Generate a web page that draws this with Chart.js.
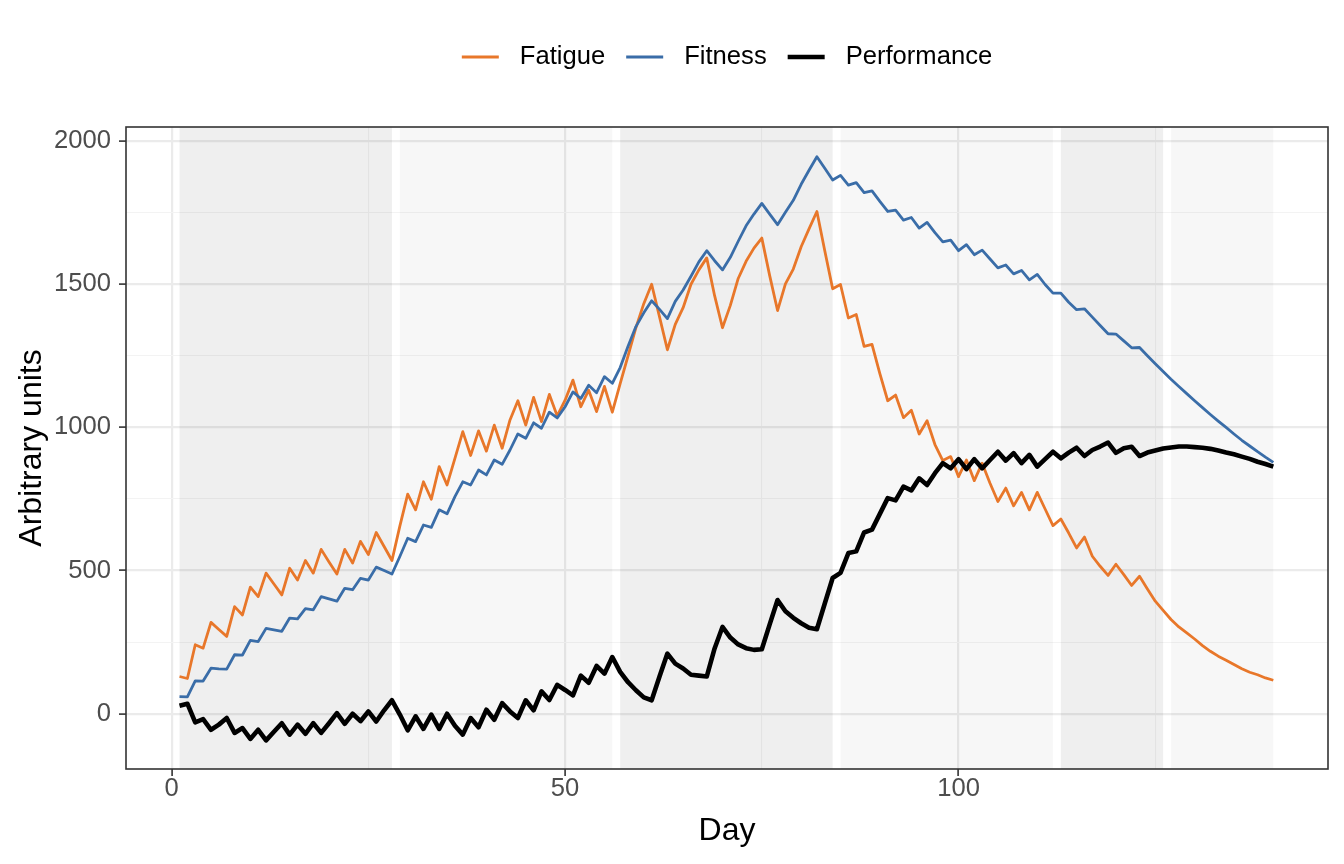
<!DOCTYPE html>
<html lang="en">
<head>
<meta charset="UTF-8">
<title>Fitness, fatigue and performance</title>
<style>
  html, body { margin: 0; padding: 0; background: #fff; }
  #wrap { width: 1344px; height: 864px; }
</style>
</head>
<body>
<div id="wrap"><canvas id="chart" width="1344" height="864"></canvas></div>
<script src="https://cdn.jsdelivr.net/npm/chart.js"></script>
<script>
  // values, one per day (days 1..140)
  const days = [
    1,2,3,4,5,6,7,8,9,10,11,12,13,14,15,16,17,18,19,20,
    21,22,23,24,25,26,27,28,29,30,31,32,33,34,35,36,37,38,39,40,
    41,42,43,44,45,46,47,48,49,50,51,52,53,54,55,56,57,58,59,60,
    61,62,63,64,65,66,67,68,69,70,71,72,73,74,75,76,77,78,79,80,
    81,82,83,84,85,86,87,88,89,90,91,92,93,94,95,96,97,98,99,100,
    101,102,103,104,105,106,107,108,109,110,111,112,113,114,115,116,117,118,119,120,
    121,122,123,124,125,126,127,128,129,130,131,132,133,134,135,136,137,138,139,140
  ];
  const fatigue = [
    130,123,241,229,319,294,270,374,345,442,
    409,491,453,415,508,467,535,491,574,530,
    488,574,526,602,556,633,584,535,655,767,
    712,810,749,863,799,892,985,902,988,917,
    1008,927,1026,1093,1008,1105,1020,1115,1040,1095,
    1165,1072,1130,1055,1143,1053,1153,1250,1348,1432,
    1500,1386,1271,1360,1418,1500,1550,1592,1460,1348,
    1426,1520,1580,1626,1661,1530,1408,1501,1553,1631,
    1693,1754,1617,1484,1499,1382,1394,1283,1290,1188,
    1093,1113,1034,1060,977,1023,940,884,898,828,
    886,814,875,805,741,788,726,773,712,773,
    715,657,680,631,579,617,550,515,483,522,
    486,448,480,436,393,361,329,303,282,261,
    238,218,201,187,172,157,145,136,125,117
  ];
  const fitness = [
    60,59,115,114,159,157,156,206,205,256,
    252,298,293,288,334,331,367,363,409,401,
    393,438,433,473,467,512,500,488,549,613,
    601,659,651,712,698,758,810,799,851,834,
    886,871,921,977,962,1016,997,1053,1033,1072,
    1124,1101,1147,1121,1177,1154,1209,1283,1352,1400,
    1442,1412,1380,1440,1480,1528,1578,1617,1582,1550,
    1594,1650,1704,1745,1782,1745,1708,1751,1793,1849,
    1898,1945,1905,1864,1880,1846,1855,1820,1826,1789,
    1754,1759,1724,1733,1696,1716,1680,1648,1654,1617,
    1638,1603,1619,1588,1557,1567,1536,1548,1515,1534,
    1499,1469,1469,1437,1411,1414,1385,1356,1327,1326,
    1302,1278,1279,1250,1222,1195,1168,1143,1118,1093,
    1069,1045,1022,1000,977,955,935,915,896,878
  ];
  const performance = [
    28,35,-30,-19,-56,-38,-15,-67,-50,-88,
    -56,-93,-63,-33,-73,-38,-70,-33,-67,-33,
    2,-35,0,-26,8,-27,12,47,-3,-58,
    -9,-53,-3,-53,0,-42,-73,-15,-47,14,
    -21,37,8,-15,47,12,78,48,101,83,
    64,133,108,167,140,198,146,110,82,57,
    47,130,210,175,158,136,133,130,228,303,
    266,242,229,223,225,312,397,358,335,316,
    300,295,385,474,492,561,567,633,643,698,
    753,745,793,780,822,799,840,875,857,889,
    854,889,857,886,915,884,910,875,904,863,
    889,915,892,912,929,900,921,933,947,911,
    927,932,900,912,919,926,930,933,933,931,
    929,925,919,912,906,898,890,880,872,863
  ];

  // training blocks shown as shaded bands
  const blockStart = [1, 29, 57, 85, 113, 127];
  const blockEnd = [28, 56, 84, 112, 126, 140];
  const blockShade = ['dark', 'light', 'dark', 'light', 'dark', 'light'];

  const xMajorTicks = [0, 50, 100];
  const xMinorTicks = [25, 75, 125];
  const yMajorTicks = [0, 500, 1000, 1500, 2000];
  const yMinorTicks = [250, 750, 1250, 1750];

  const FONT = "'Liberation Sans', Arial, sans-serif";
  const series = [
    { label: 'Fatigue', data: fatigue, color: '#E8772A', width: 2.8 },
    { label: 'Fitness', data: fitness, color: '#3A6DA8', width: 2.8 },
    { label: 'Performance', data: performance, color: '#000000', width: 4.6 }
  ];

  const bandsPlugin = {
    id: 'bands',
    beforeDatasetsDraw(chart) {
      const { ctx, chartArea, scales } = chart;
      ctx.save();
      blockStart.forEach((s, i) => {
        const x0 = scales.x.getPixelForValue(s);
        const x1 = scales.x.getPixelForValue(blockEnd[i]);
        ctx.fillStyle = blockShade[i] === 'dark' ? 'rgba(0,0,0,0.063)' : 'rgba(0,0,0,0.031)';
        ctx.fillRect(x0, chartArea.top, x1 - x0, chartArea.bottom - chartArea.top);
      });
      ctx.restore();
    },
    afterDatasetsDraw(chart) {
      const { ctx, chartArea } = chart;
      ctx.save();
      ctx.strokeStyle = '#333333';
      ctx.lineWidth = 1.6;
      ctx.strokeRect(chartArea.left, chartArea.top,
        chartArea.right - chartArea.left, chartArea.bottom - chartArea.top);
      ctx.restore();
    }
  };

  const legendPlugin = {
    id: 'topLegend',
    afterDraw(chart) {
      const ctx = chart.ctx;
      const keyW = 37, gapKey = 21, gapItem = 21, cy = 57;
      ctx.save();
      ctx.font = '25.6px ' + FONT;
      const widths = series.map(s => ctx.measureText(s.label).width);
      let total = 0;
      widths.forEach((w, i) => { total += keyW + gapKey + w + (i < widths.length - 1 ? gapItem : 0); });
      let x = (chart.chartArea.left + chart.chartArea.right) / 2 - total / 2;
      series.forEach((s, i) => {
        ctx.strokeStyle = s.color;
        ctx.lineWidth = s.width;
        ctx.beginPath();
        ctx.moveTo(x, cy);
        ctx.lineTo(x + keyW, cy);
        ctx.stroke();
        x += keyW + gapKey;
        ctx.fillStyle = '#000';
        ctx.textBaseline = 'middle';
        ctx.textAlign = 'left';
        ctx.fillText(s.label, x, cy);
        x += widths[i] + gapItem;
      });
      ctx.restore();
    }
  };

  const isMajor = (list, c) => c.tick && list.includes(c.tick.value);

  new Chart(document.getElementById('chart'), {
    type: 'line',
    data: {
      datasets: series.map((s, i) => ({
        label: s.label,
        data: s.data.map((v, k) => ({ x: days[k], y: v })),
        borderColor: s.color,
        borderWidth: s.width,
        borderJoinStyle: 'round',
        borderCapStyle: 'butt',
        pointRadius: 0,
        tension: 0,
        fill: false,
        order: series.length - i
      }))
    },
    options: {
      responsive: false,
      animation: false,
      devicePixelRatio: 1,
      layout: { padding: { top: 127, right: 16, left: 0, bottom: 0 } },
      plugins: { legend: { display: false }, tooltip: { enabled: false } },
      scales: {
        x: {
          type: 'linear',
          min: -5.8,
          max: 146.95,
          afterBuildTicks: s => {
            s.ticks = xMajorTicks.concat(xMinorTicks).sort((a, b) => a - b).map(v => ({ value: v }));
          },
          afterFit: s => { s.height = 95; },
          ticks: {
            autoSkip: false,
            maxRotation: 0,
            padding: -2,
            color: '#4d4d4d',
            font: { family: FONT, size: 25.6 },
            callback: v => xMajorTicks.includes(v) ? String(v) : ''
          },
          grid: {
            color: c => isMajor(xMajorTicks, c) ? '#ebebeb' : '#f3f3f3',
            lineWidth: c => isMajor(xMajorTicks, c) ? 2.2 : 1.1,
            drawTicks: true,
            tickLength: 7,
            tickWidth: 1.6,
            tickColor: c => isMajor(xMajorTicks, c) ? '#333333' : 'rgba(0,0,0,0)'
          },
          border: { display: false },
          title: {
            display: true,
            text: 'Day',
            color: '#000',
            font: { family: FONT, size: 32 },
            padding: { top: 0, bottom: 14 }
          }
        },
        y: {
          type: 'linear',
          min: -193,
          max: 2049,
          afterBuildTicks: s => {
            s.ticks = yMajorTicks.concat(yMinorTicks).sort((a, b) => a - b).map(v => ({ value: v }));
          },
          afterFit: s => { s.width = 126; },
          ticks: {
            autoSkip: false,
            padding: 8,
            color: '#4d4d4d',
            font: { family: FONT, size: 25.6 },
            callback: v => yMajorTicks.includes(v) ? String(v) : ''
          },
          grid: {
            color: c => isMajor(yMajorTicks, c) ? '#ebebeb' : '#f3f3f3',
            lineWidth: c => isMajor(yMajorTicks, c) ? 2.2 : 1.1,
            drawTicks: true,
            tickLength: 7,
            tickWidth: 1.6,
            tickColor: c => isMajor(yMajorTicks, c) ? '#333333' : 'rgba(0,0,0,0)'
          },
          border: { display: false },
          title: {
            display: true,
            text: 'Arbitrary units',
            color: '#000',
            font: { family: FONT, size: 32 },
            padding: { top: 13, bottom: 0 }
          }
        }
      }
    },
    plugins: [bandsPlugin, legendPlugin]
  });
</script>
</body>
</html>
